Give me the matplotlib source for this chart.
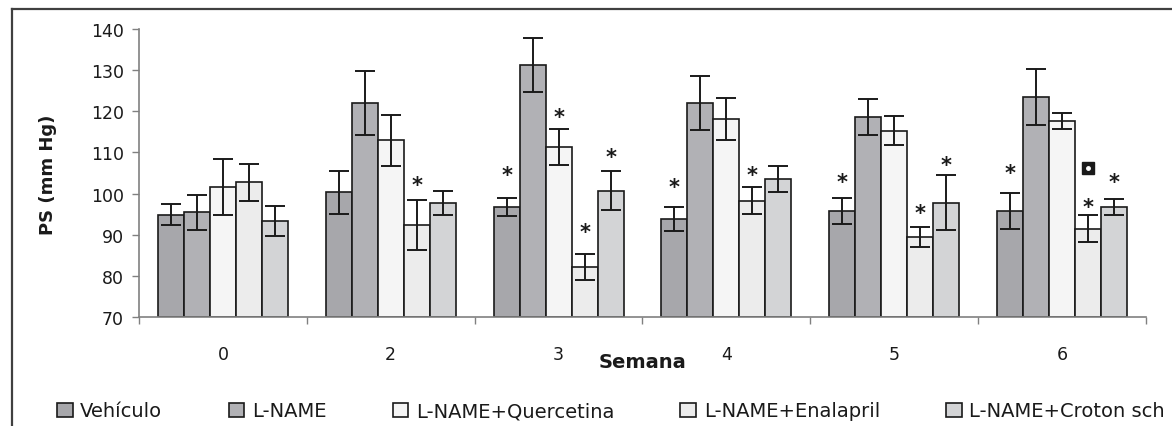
import numpy as np
import matplotlib as mpl
mpl.use('Agg')
import matplotlib.pyplot as plt
from matplotlib.lines import Line2D

# weeks and treatment groups
semanas = ['0', '2', '3', '4', '5', '6']
grupos = ['Vehículo', 'L-NAME', 'L-NAME+Quercetina', 'L-NAME+Enalapril',
          'L-NAME+Croton sch']

# mean systolic pressure (mm Hg) per group, one value per week
vehiculo = [94.9, 100.3, 96.8, 93.9, 95.8, 95.8]
l_name = [95.4, 122.0, 131.3, 122.0, 118.7, 123.5]
quercetina = [101.7, 112.9, 111.4, 118.2, 115.3, 117.7]
enalapril = [102.7, 92.4, 82.2, 98.3, 89.5, 91.5]
croton = [93.4, 97.8, 100.7, 103.6, 97.8, 96.8]

# standard errors
err_vehiculo = [2.6, 5.3, 2.2, 2.9, 3.2, 4.4]
err_l_name = [4.3, 7.8, 6.6, 6.6, 4.4, 6.8]
err_quercetina = [6.8, 6.1, 4.4, 5.1, 3.6, 1.9]
err_enalapril = [4.6, 6.1, 3.2, 3.2, 2.4, 3.2]
err_croton = [3.7, 2.9, 4.8, 3.1, 6.6, 2.0]

# significance marks: (week index, group index, y position)
estrellas = [(1, 3, 102.0),
             (2, 0, 104.4), (2, 2, 118.5), (2, 3, 90.6), (2, 4, 109.0),
             (3, 0, 101.5), (3, 3, 104.6),
             (4, 0, 102.9), (4, 3, 95.3), (4, 4, 107.0),
             (5, 0, 105.0), (5, 3, 96.8), (5, 4, 102.9)]
cuadrado = (5, 3, 106.1)

colores = ['#a7a7ab', '#b1b1b5', '#f5f5f5', '#ececec', '#d3d4d6']

medias = [vehiculo, l_name, quercetina, enalapril, croton]
errores = [err_vehiculo, err_l_name, err_quercetina, err_enalapril, err_croton]

W, H = 1172, 427
fig = plt.figure(figsize=(W / 100, H / 100), dpi=100)
ax = fig.add_axes([139 / W, 1 - 318 / H, (1146 - 139) / W, (318 - 30) / H])

x = np.arange(len(semanas))
bw = 0.155
for i in range(len(grupos)):
    xi = x + (i - 2) * bw
    ax.bar(xi, np.array(medias[i]) - 70, bw, bottom=70, color=colores[i],
           edgecolor='#1a1a1a', linewidth=1.2, label=grupos[i], zorder=2)
    ax.errorbar(xi, medias[i], yerr=errores[i], fmt='none', ecolor='#1a1a1a',
                elinewidth=1.4, capsize=7.5, capthick=1.4, zorder=3)

for s, g, yv in estrellas:
    ax.text(s + (g - 2) * bw, yv, '*', ha='center', va='center',
            fontsize=15, color='#1a1a1a', fontweight='bold', zorder=4)

s, g, yv = cuadrado
xs = s + (g - 2) * bw
ax.plot([xs], [yv], marker='s', ms=8, color='#1a1a1a', zorder=4)
ax.plot([xs], [yv], marker='o', ms=2.5, color='white', zorder=5)

ax.set_xlim(-0.5, len(semanas) - 0.5)
ax.set_ylim(70, 140)
ax.set_yticks(range(70, 141, 10))
ax.set_xticks(np.arange(-0.5, len(semanas)), [])
ax.set_xticks(x, semanas, minor=True)
ax.tick_params(axis='x', which='major', length=5, width=1, color='#808080',
               direction='out')
ax.tick_params(axis='x', which='minor', length=0, pad=20, labelsize=12.5,
               labelcolor='#1a1a1a')
ax.tick_params(axis='y', length=5, width=1, color='#808080', pad=6,
               labelsize=12.5, labelcolor='#1a1a1a')
for sp in ['top', 'right']:
    ax.spines[sp].set_visible(False)
for sp in ['left', 'bottom']:
    ax.spines[sp].set_color('#808080')
    ax.spines[sp].set_linewidth(1.2)

fig.text(48 / W, 1 - 175 / H, 'PS (mm Hg)', rotation=90, ha='center',
         va='center', fontsize=13, fontweight='bold', color='#1a1a1a')
fig.text(642 / W, 1 - 363 / H, 'Semana', ha='center', va='center',
         fontsize=14, fontweight='bold', color='#1a1a1a')

# outer frame (left and top edges visible)
fig.add_artist(Line2D([12 / W, 12 / W], [0, 1 - 10 / H], color='#404040',
                      lw=1.6, transform=fig.transFigure))
fig.add_artist(Line2D([12 / W, 1], [1 - 10 / H, 1 - 10 / H], color='#404040',
                      lw=1.6, transform=fig.transFigure))

fig.legend(loc='center', bbox_to_anchor=(611 / W, 1 - 412 / H), ncol=5,
           frameon=False, fontsize=14, handlelength=0.8, handleheight=0.7,
           handletextpad=0.4, columnspacing=3.4, borderaxespad=0,
           labelcolor='#1a1a1a')

fig.savefig('out.png', dpi=100)
